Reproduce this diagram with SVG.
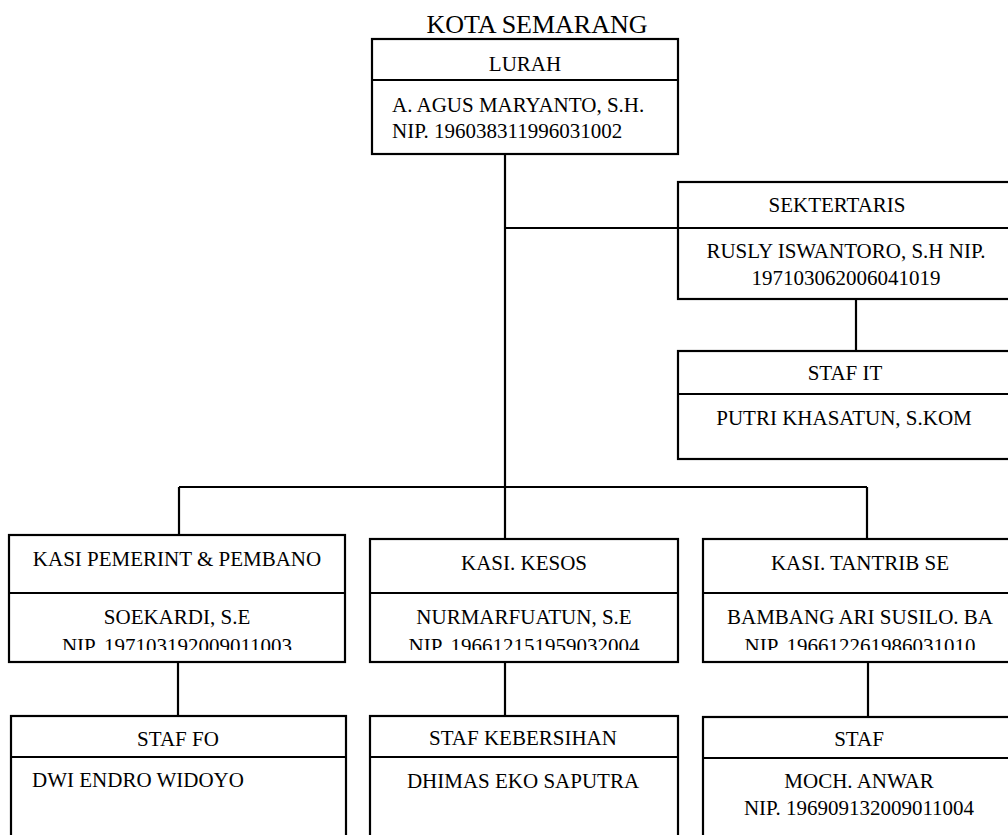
<svg xmlns="http://www.w3.org/2000/svg" width="1008" height="835" viewBox="0 0 1008 835">
<style>
.box{fill:#fff;stroke:#000;stroke-width:2.2}
.div{stroke:#000;stroke-width:2.2}
.ln{stroke:#000;stroke-width:2.2;fill:none}
text{font-family:"Liberation Serif","Times New Roman",serif;font-size:21px;fill:#000}
.c{text-anchor:middle}
</style>
<defs>
<clipPath id="clipMid"><rect x="0" y="0" width="1008" height="650"/></clipPath>
</defs>
<rect width="1008" height="835" fill="#fff"/>
<g id="connectors">
<line class="ln" x1="505" y1="154" x2="505" y2="539"/>
<line class="ln" x1="505" y1="228" x2="678" y2="228"/>
<line class="ln" x1="856" y1="299" x2="856" y2="351"/>
<line class="ln" x1="179" y1="487" x2="867" y2="487"/>
<line class="ln" x1="179" y1="487" x2="179" y2="535"/>
<line class="ln" x1="867" y1="487" x2="867" y2="539"/>
<line class="ln" x1="178" y1="662" x2="178" y2="716"/>
<line class="ln" x1="505" y1="662" x2="505" y2="716"/>
<line class="ln" x1="868" y1="662" x2="868" y2="717"/>
</g>
<text class="c" x="537" y="33" style="font-size:26px">KOTA SEMARANG</text>
<g id="lurah">
<rect class="box" x="372" y="39" width="306" height="115"/>
<line class="div" x1="372" y1="80" x2="678" y2="80"/>
<text class="c" x="525" y="71">LURAH</text>
<text x="392" y="112">A. AGUS MARYANTO, S.H.</text>
<text x="392" y="138">NIP. 196038311996031002</text>
</g>
<g id="sektertaris">
<rect class="box" x="678" y="182" width="345" height="117"/>
<line class="div" x1="678" y1="228" x2="1023" y2="228"/>
<text class="c" x="837" y="212">SEKTERTARIS</text>
<text class="c" x="846" y="258">RUSLY ISWANTORO, S.H NIP.</text>
<text class="c" x="846" y="285">197103062006041019</text>
</g>
<g id="staf-it">
<rect class="box" x="678" y="351" width="345" height="108"/>
<line class="div" x1="678" y1="394" x2="1023" y2="394"/>
<text class="c" x="845" y="380">STAF IT</text>
<text class="c" x="844" y="425">PUTRI KHASATUN, S.KOM</text>
</g>
<g id="kasi-pemerint">
<rect class="box" x="9" y="535" width="336" height="127"/>
<line class="div" x1="9" y1="593" x2="345" y2="593"/>
<text class="c" x="177" y="566">KASI PEMERINT &amp; PEMBANO</text>
<text class="c" x="177" y="624">SOEKARDI, S.E</text>
<text class="c" x="177" y="653" clip-path="url(#clipMid)">NIP. 197103192009011003</text>
</g>
<g id="kasi-kesos">
<rect class="box" x="370" y="539" width="308" height="123"/>
<line class="div" x1="370" y1="593" x2="678" y2="593"/>
<text class="c" x="524" y="570">KASI. KESOS</text>
<text class="c" x="524" y="624">NURMARFUATUN, S.E</text>
<text class="c" x="524" y="653" clip-path="url(#clipMid)">NIP. 196612151959032004</text>
</g>
<g id="kasi-tantrib">
<rect class="box" x="703" y="539" width="314" height="123"/>
<line class="div" x1="703" y1="593" x2="1017" y2="593"/>
<text class="c" x="860" y="570">KASI. TANTRIB SE</text>
<text class="c" x="860" y="624">BAMBANG ARI SUSILO. BA</text>
<text class="c" x="860" y="653" clip-path="url(#clipMid)">NIP. 196612261986031010</text>
</g>
<g id="staf-fo">
<rect class="box" x="11" y="716" width="335" height="140"/>
<line class="div" x1="11" y1="757" x2="346" y2="757"/>
<text class="c" x="178" y="746">STAF FO</text>
<text x="32" y="787">DWI ENDRO WIDOYO</text>
</g>
<g id="staf-kebersihan">
<rect class="box" x="370" y="716" width="308" height="140"/>
<line class="div" x1="370" y1="757" x2="678" y2="757"/>
<text class="c" x="523" y="745">STAF KEBERSIHAN</text>
<text class="c" x="523" y="788">DHIMAS EKO SAPUTRA</text>
</g>
<g id="staf">
<rect class="box" x="703" y="717" width="314" height="140"/>
<line class="div" x1="703" y1="758" x2="1017" y2="758"/>
<text class="c" x="859" y="746">STAF</text>
<text class="c" x="859" y="788">MOCH. ANWAR</text>
<text class="c" x="859" y="815">NIP. 196909132009011004</text>
</g>
</svg>
